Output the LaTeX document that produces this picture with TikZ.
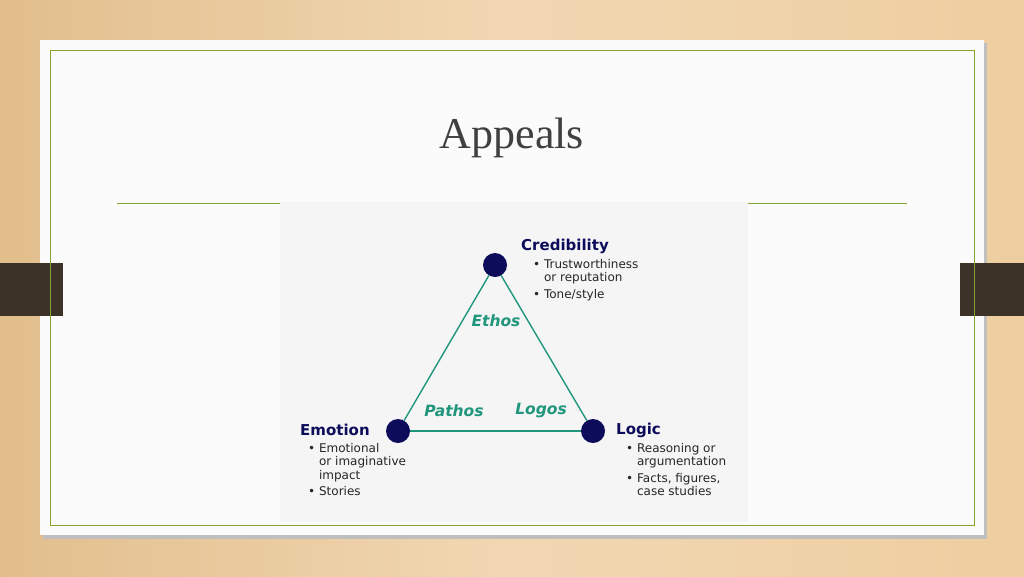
\documentclass[tikz,border=0pt]{standalone}
\usepackage{fontspec}
\setmainfont{DejaVu Sans}
\newfontfamily\titlefont{Liberation Serif}
\definecolor{navy}{RGB}{12,12,90}
\definecolor{tealc}{RGB}{32,150,125}
\definecolor{olive}{RGB}{130,165,50}
\definecolor{woodA}{RGB}{238,206,160}
\definecolor{woodB}{RGB}{226,190,140}
\definecolor{tab}{RGB}{60,50,40}
\tikzset{
 dot/.style={circle,fill=navy,minimum size=24pt,inner sep=0pt},
 edge/.style={draw=tealc,line width=1.4pt},
 head/.style={font=\fontsize{15}{17}\selectfont\bfseries,text=navy,anchor=west,inner sep=0pt},
 bl/.style={font=\fontsize{12}{13.5}\selectfont,text=black!85,anchor=north west,align=left,inner sep=0pt},
 greek/.style={font=\fontsize{15.5}{17}\selectfont\bfseries\itshape,text=tealc}
}
\begin{document}
\begin{tikzpicture}[x=1pt,y=-1pt]
\useasboundingbox (0,0) rectangle (1024,576);
\shade[left color=woodB,right color=woodA,middle color=woodA!80!white] (0,0) rectangle (1024,576);
\fill[black!25] (43,43) rectangle (987,539);
\fill[white!97!gray] (40,40) rectangle (984,535);
\fill[tab] (0,263) rectangle (63,316);
\fill[tab] (960,263) rectangle (1024,316);
\draw[olive,line width=1pt] (50,50) rectangle (974,525);
\node[font=\titlefont\fontsize{44}{48}\selectfont,text=black!75] (title) at (512,138) {Appeals};
\draw[olive,line width=0.8pt] (117,203) -- (280,203);
\draw[olive,line width=0.8pt] (748,203) -- (907,203);
\fill[black!4] (280,202) rectangle (748,522);
\node[dot] (E) at (495,265) {};
\node[dot] (P) at (398,431) {};
\node[dot] (L) at (593,431) {};
\draw[edge] (E) -- (P);
\draw[edge] (E) -- (L);
\draw[edge] (P) -- (L);
\node[greek] (eth) at (496,321) {Ethos};
\node[greek] (pat) at (454,411) {Pathos};
\node[greek] (log) at (541,411) {Logos};
\node[head] (cred) at (521,246) {Credibility};
\node[bl] (credb) at (533,259) {• Trustworthiness\\\phantom{• }or reputation\\[3pt]• Tone/style};
\node[head] (emo) at (300,430) {Emotion};
\node[bl] (emob) at (308,443) {• Emotional\\\phantom{• }or imaginative\\\phantom{• }impact\\[3pt]• Stories};
\node[head] (logic) at (616,430) {Logic};
\node[bl] (logb) at (626,443) {• Reasoning or\\\phantom{• }argumentation\\[3pt]• Facts, figures,\\\phantom{• }case studies};
\end{tikzpicture}
\end{document}
